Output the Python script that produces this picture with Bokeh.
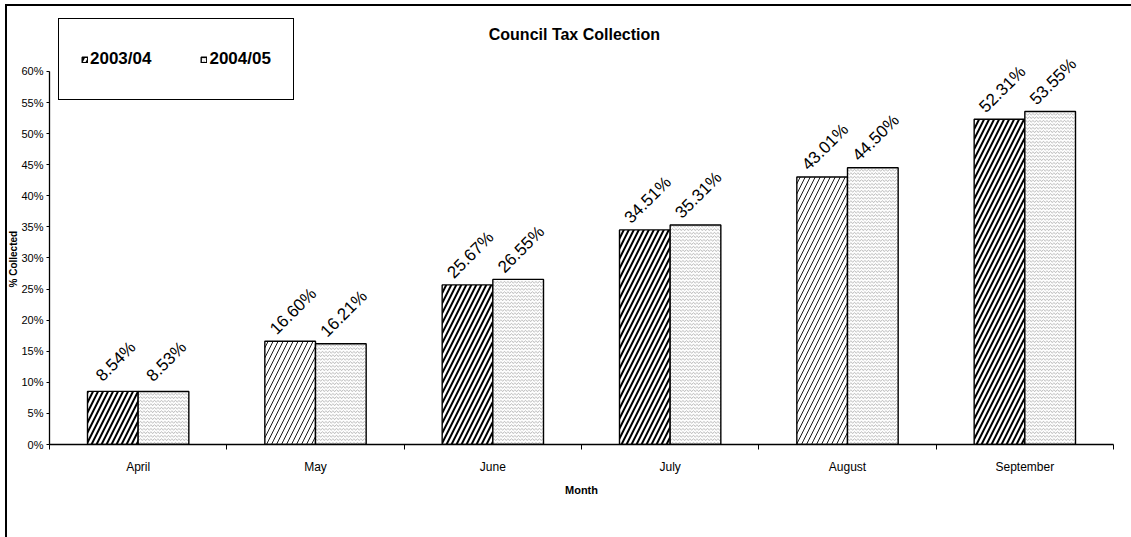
import math
from bokeh.plotting import figure
from bokeh.models import (ColumnDataSource, Range1d, FixedTicker, PrintfTickFormatter,
                          CustomJSTickFormatter, Legend, LegendItem, Label, LinearAxis, Title)
from bokeh.core.properties import value
from bokeh.embed import file_html
from bokeh.resources import INLINE

# ---- data ----
months = ["April", "May", "June", "July", "August", "September"]
series_names = ["2003/04", "2004/05"]
pct_2003_04 = [8.54, 16.60, 25.67, 34.51, 43.01, 52.31]
pct_2004_05 = [8.53, 16.21, 26.55, 35.31, 44.50, 53.55]
y_tick_values = [0, 5, 10, 15, 20, 25, 30, 35, 40, 45, 50, 55, 60]
title_text = "Council Tax Collection"
x_title = "Month"
y_title = "% Collected"

# ---- styles ----
FONT = "Liberation Sans"
hatch_weights_a = [2.0, 0.9, 2.0, 2.0, 0.9, 2.0]

n = len(months)
bar_w = 1 / 3.5
centers = [i + 0.5 for i in range(n)]
y_axis_top = y_tick_values[-1]

src_a = ColumnDataSource(dict(
    x=[c - bar_w / 2 for c in centers], top=pct_2003_04,
    label=[f"{v:.2f}%" for v in pct_2003_04], hw=hatch_weights_a))
src_b = ColumnDataSource(dict(
    x=[c + bar_w / 2 for c in centers], top=pct_2004_05,
    label=[f"{v:.2f}%" for v in pct_2004_05]))

frame_styles = {
    "background-color": "white",
    "background-image": "linear-gradient(#000,#000), linear-gradient(#000,#000)",
    "background-size": "2px 100%, 100% 2px",
    "background-position": "5px 5px, 5px 4px",
    "background-repeat": "no-repeat",
}

p = figure(width=1131, height=537, output_backend="svg", toolbar_location=None,
           x_range=Range1d(0, n), y_range=Range1d(0, 69.8),
           min_border_left=49, min_border_right=18, min_border_top=10, min_border_bottom=93,
           x_axis_type=None, y_axis_type=None,
           background_fill_color="white", border_fill_alpha=0.0,
           styles=frame_styles)
p.outline_line_color = None

# axes
yaxis = LinearAxis(ticker=FixedTicker(ticks=y_tick_values, minor_ticks=[]),
                   formatter=PrintfTickFormatter(format="%d%%"), bounds=(0, y_axis_top))
yaxis.axis_line_color = "black"
yaxis.axis_line_width = 1.3
yaxis.major_tick_out = 3
yaxis.major_tick_in = 0
yaxis.minor_tick_out = 0
yaxis.minor_tick_in = 0
yaxis.major_label_standoff = 3
yaxis.major_label_text_font = FONT
yaxis.major_label_text_font_size = "11px"
yaxis.major_label_text_color = "black"
p.add_layout(yaxis, "left")

# y-axis title, placed along the 0-60% span as in the reference
p.add_layout(Title(text=y_title, align="left", offset=157, standoff=0,
                   text_font=FONT, text_font_size="10px", text_font_style="bold",
                   text_color="black"), "left")

xaxis = LinearAxis(ticker=FixedTicker(ticks=centers, minor_ticks=list(range(n + 1))),
                   formatter=CustomJSTickFormatter(args=dict(months=months),
                                                   code="return months[Math.floor(tick)] || ''"),
                   axis_label=x_title)
xaxis.axis_line_color = "black"
xaxis.axis_line_width = 1.3
xaxis.major_tick_out = 0
xaxis.major_tick_in = 0
xaxis.minor_tick_out = 5
xaxis.minor_tick_in = 0
xaxis.minor_tick_line_color = "black"
xaxis.major_label_standoff = 10
xaxis.major_label_text_font = FONT
xaxis.major_label_text_font_size = "12px"
xaxis.major_label_text_color = "black"
xaxis.axis_label_standoff = 7
xaxis.axis_label_text_font = FONT
xaxis.axis_label_text_font_size = "11px"
xaxis.axis_label_text_font_style = "bold"
xaxis.axis_label_text_color = "black"
p.add_layout(xaxis, "below")

# bars
ra = p.vbar(x="x", top="top", bottom=0, width=bar_w, source=src_a,
            fill_color="white", line_color="black", line_width=1.4,
            hatch_pattern="/", hatch_scale=10, hatch_weight="hw", hatch_color="black")
rb = p.vbar(x="x", top="top", bottom=0, width=bar_w, source=src_b,
            fill_color="white", line_color="black", line_width=1.4,
            hatch_pattern="horizontal_wave", hatch_scale=3.5, hatch_weight=0.7,
            hatch_color="#8c8c8c")

# data labels
for src in (src_a, src_b):
    p.text(x="x", y="top", text="label", source=src, angle=math.pi / 4,
           x_offset=3, y_offset=-30, text_align="center", text_baseline="middle",
           text_font=value(FONT), text_font_size="17px", text_color="black")

# chart title
p.add_layout(Label(x=2.96, y=65.9, text=title_text, text_align="center",
                   text_baseline="middle", text_font=FONT, text_font_size="16px",
                   text_font_style="bold", text_color="black"))

legend = Legend(items=[LegendItem(label=series_names[0], renderers=[ra], index=0),
                       LegendItem(label=series_names[1], renderers=[rb], index=0)],
                location=(9, 344), orientation="horizontal",
                padding=22, spacing=49, label_standoff=2,
                glyph_width=7, glyph_height=7, label_height=36,
                label_text_font=FONT, label_text_font_size="17px",
                label_text_font_style="bold", label_text_color="black",
                border_line_color="black", border_line_width=1.5, border_line_alpha=1.0,
                background_fill_color="white", background_fill_alpha=1.0)
p.add_layout(legend)

open("out.html", "w").write(file_html(p, INLINE))
